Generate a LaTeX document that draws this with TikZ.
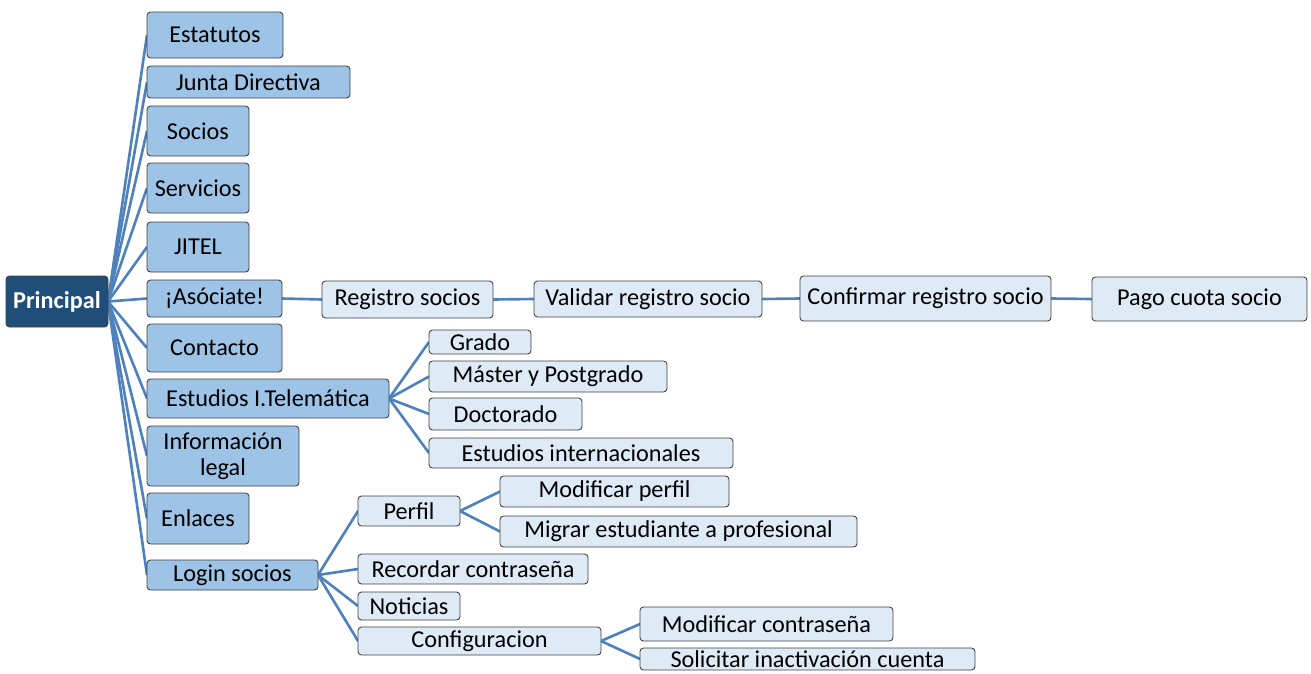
\documentclass[tikz,border=0pt]{standalone}
\usepackage{fontspec}
\setmainfont{Carlito}
\usetikzlibrary{backgrounds}
\definecolor{lvlone}{HTML}{9DC3E6}
\definecolor{lvltwo}{HTML}{DEEAF6}
\definecolor{rootc}{HTML}{1F4E79}
\definecolor{linec}{HTML}{4F81BD}
\definecolor{edgec}{HTML}{404040}
\newcommand\bx[7]{\node[#2, anchor=north west, minimum width={(#5-#3)*0.02cm}, minimum height={(#6-#4)*0.02cm}] (#1) at (#3,#4) {#7};}
\begin{document}
\begin{tikzpicture}[x=0.02cm,y=-0.02cm,
  base/.style={draw=edgec, line width=0.5pt, rounded corners=2pt, inner sep=0pt, outer sep=0pt, align=center, font=\fontsize{13.8}{14.5}\selectfont},
  rootbox/.style={base, fill=rootc, text=white, font=\fontsize{13.8}{14.5}\selectfont\bfseries},
  onebox/.style={base, fill=lvlone},
  twobox/.style={base, fill=lvltwo},
  conn/.style={draw=linec, line width=1.5pt}]
\useasboundingbox (0,0) rectangle (1311,673);
\bx{P}{rootbox}{6}{276}{108}{327}{Principal}
\bx{est}{onebox}{147}{12}{283}{58}{Estatutos}
\bx{jun}{onebox}{147}{66}{350}{98}{Junta Directiva}
\bx{soc}{onebox}{147}{106}{249}{156}{Socios}
\bx{ser}{onebox}{147}{163}{249}{213}{Servicios}
\bx{jit}{onebox}{147}{222}{249}{272}{JITEL}
\bx{aso}{onebox}{147}{280}{282}{317}{¡Asóciate!}
\bx{con}{onebox}{147}{324}{282}{372}{Contacto}
\bx{etu}{onebox}{147}{379}{389}{418}{Estudios I.Telemática}
\bx{inf}{onebox}{147}{426}{299}{486}{Información\\legal}
\bx{enl}{onebox}{147}{493}{249}{544}{Enlaces}
\bx{log}{onebox}{147}{560}{318}{590}{Login socios}
\bx{reg}{twobox}{322}{281}{493}{318}{Registro socios}
\bx{val}{twobox}{534}{281}{762}{317}{Validar registro socio}
\bx{cnf}{twobox}{800}{276}{1051}{321}{Confirmar registro socio}
\bx{pag}{twobox}{1092}{277}{1307}{321}{Pago cuota socio}
\bx{gra}{twobox}{429}{330}{531}{354}{Grado}
\bx{mas}{twobox}{429}{361}{667}{392}{Máster y Postgrado}
\bx{doc}{twobox}{429}{398}{582}{430}{Doctorado}
\bx{ein}{twobox}{429}{438}{733}{468}{Estudios internacionales}
\bx{per}{twobox}{358}{496}{460}{526}{Perfil}
\bx{mpe}{twobox}{500}{476}{729}{507}{Modificar perfil}
\bx{mig}{twobox}{500}{516}{857}{547}{Migrar estudiante a profesional}
\bx{rec}{twobox}{358}{554}{588}{584}{Recordar contraseña}
\bx{not}{twobox}{358}{592}{460}{620}{Noticias}
\bx{cfg}{twobox}{358}{627}{601}{655}{Configuracion}
\bx{mco}{twobox}{640}{607}{893}{641}{Modificar contraseña}
\bx{sol}{twobox}{640}{648}{975}{670}{Solicitar inactivación cuenta}
\begin{pgfonlayer}{background}
\foreach \c in {est,jun,soc,ser,jit,aso,con,etu,inf,enl,log}
  \draw[conn] (P.east) -- (\c.west);
\draw[conn] (aso.east) -- (reg.west);
\draw[conn] (reg.east) -- (val.west);
\draw[conn] (val.east) -- (cnf.west);
\draw[conn] (cnf.east) -- (pag.west);
\foreach \c in {gra,mas,doc,ein}
  \draw[conn] (etu.east) -- (\c.west);
\foreach \c in {per,rec,not,cfg}
  \draw[conn] (log.east) -- (\c.west);
\foreach \c in {mpe,mig}
  \draw[conn] (per.east) -- (\c.west);
\foreach \c in {mco,sol}
  \draw[conn] (cfg.east) -- (\c.west);
\end{pgfonlayer}
\end{tikzpicture}
\end{document}
